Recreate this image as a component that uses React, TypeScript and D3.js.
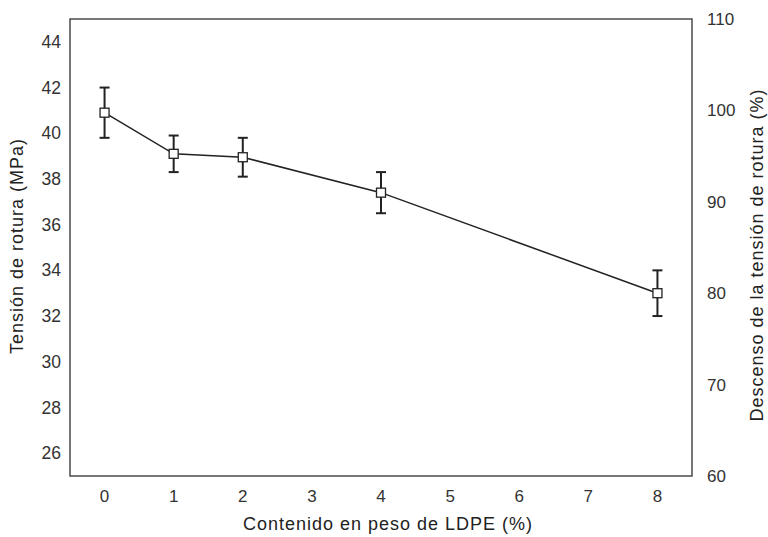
import React from "react";
import * as d3 from "d3";

const contents = [0, 1, 2, 4, 8];
const tension = [40.9, 39.1, 38.95, 37.4, 33.0];
const errors = [1.1, 0.8, 0.85, 0.9, 1.0];
const xTicks = [0, 1, 2, 3, 4, 5, 6, 7, 8];
const leftTicks = [26, 28, 30, 32, 34, 36, 38, 40, 42, 44];
const rightTicks = [60, 70, 80, 90, 100, 110];

const W = 768;
const H = 537;
const L = 70, R = 692, T = 19, B = 476;
const FONT = "'Liberation Sans', Arial, Helvetica, sans-serif";

export default function App() {
  const x = d3.scaleLinear().domain([-0.5, 8.5]).range([L, R]);
  const yL = d3.scaleLinear().domain([25, 45]).range([B, T]);
  const yR = d3.scaleLinear().domain([60, 110]).range([B, T]);
  const line = d3
    .line<number>()
    .x((_, i) => x(contents[i]))
    .y((d) => yL(d));
  const ms = 9;
  const cap = 5;
  return (
    <svg
      width={W}
      height={H}
      style={{ position: "absolute", left: 0, top: 0, background: "#fff" }}
      fontFamily={FONT}
    >
      <rect x={0} y={0} width={W} height={H} fill="#fff" />
      <rect x={L} y={T} width={R - L} height={B - T} fill="none" stroke="#555" strokeWidth={1.6} />
      {leftTicks.map((t) => (
        <text key={"l" + t} x={61} y={yL(t)} dy="0.35em" textAnchor="end" fontSize={17.5} fill="#333">
          {t}
        </text>
      ))}
      {rightTicks.map((t) => (
        <text key={"r" + t} x={707} y={yR(t)} dy="0.35em" textAnchor="start" fontSize={17} fill="#333">
          {t}
        </text>
      ))}
      {xTicks.map((t) => (
        <text key={"x" + t} x={x(t)} y={496} dy="0.35em" textAnchor="middle" fontSize={17} fill="#333">
          {t}
        </text>
      ))}
      <text x={388} y={524} dy="0.35em" textAnchor="middle" fontSize={18} letterSpacing={1} fill="#222">
        Contenido en peso de LDPE (%)
      </text>
      <text
        transform={`translate(17,246) rotate(-90)`}
        dy="0.35em"
        textAnchor="middle"
        fontSize={18}
        letterSpacing={1}
        fill="#222"
      >
        Tensión de rotura (MPa)
      </text>
      <text
        transform={`translate(757,255) rotate(-90)`}
        dy="0.35em"
        textAnchor="middle"
        fontSize={18}
        letterSpacing={1}
        fill="#222"
      >
        Descenso de la tensión de rotura (%)
      </text>
      <path d={line(tension) || ""} fill="none" stroke="#222" strokeWidth={1.5} />
      {tension.map((v, i) => {
        const cx = x(contents[i]);
        const top = yL(v + errors[i]);
        const bot = yL(v - errors[i]);
        return (
          <g key={"e" + i} stroke="#222" strokeWidth={2}>
            <line x1={cx} x2={cx} y1={top} y2={bot} />
            <line x1={cx - cap} x2={cx + cap} y1={top} y2={top} />
            <line x1={cx - cap} x2={cx + cap} y1={bot} y2={bot} />
          </g>
        );
      })}
      {tension.map((v, i) => (
        <rect
          key={"m" + i}
          x={x(contents[i]) - ms / 2}
          y={yL(v) - ms / 2}
          width={ms}
          height={ms}
          fill="#fff"
          stroke="#222"
          strokeWidth={1.3}
        />
      ))}
    </svg>
  );
}
